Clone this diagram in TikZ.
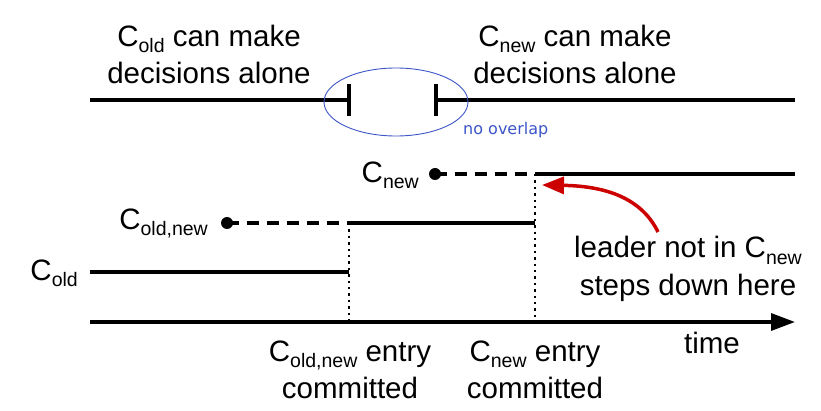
\documentclass[tikz,border=0pt]{standalone}
\usepackage{fontspec}
\setmainfont{Liberation Sans}
\newfontfamily\dejavu{DejaVu Sans}
\usetikzlibrary{arrows.meta,shapes.geometric}
\newcommand\lowsub[1]{\raisebox{-6pt}{\fontsize{19.5}{19.5}\selectfont #1}}
\definecolor{ovblue}{RGB}{60,85,200}
\definecolor{arred}{RGB}{204,0,0}
\begin{document}
\begin{tikzpicture}[x=1pt,y=-1pt,
  lbl/.style={font=\fontsize{29.5}{37}\selectfont, inner sep=0pt, align=center},
  thickline/.style={line width=3.4pt},
  dashline/.style={line width=3.4pt, dash pattern=on 12pt off 8pt},
  dotline/.style={line width=2.4pt, dash pattern=on 2.4pt off 4pt},
  startdot/.style={circle, fill=black, inner sep=0pt, minimum size=12pt},
  bluenote/.style={font=\dejavu\fontsize{16}{16}\selectfont, text=ovblue, inner sep=0pt}]
\useasboundingbox (0,0) rectangle (821,411);
% top timeline
\coordinate (tl1) at (90,100);
\coordinate (tl2) at (349,100);
\coordinate (tk1a) at (349,84);
\coordinate (tk1b) at (349,116);
\coordinate (tr1) at (436,100);
\coordinate (tr2) at (795,100);
\coordinate (tk2a) at (436,84);
\coordinate (tk2b) at (436,116);
\draw[thickline] (tl1) -- (tl2);
\draw[thickline] (tk1a) -- (tk1b);
\draw[thickline] (tr1) -- (tr2);
\draw[thickline] (tk2a) -- (tk2b);
\node[draw=ovblue, line width=0.9pt, ellipse, minimum width=144pt, minimum height=68pt, inner sep=0pt] (gap) at (396,102) {};
\node[bluenote, anchor=base west] (nov) at (463,135) {no overlap};
\node[lbl, anchor=base] (topL) at (209,84) {C\lowsub{old} can make\\decisions alone};
\node[lbl, anchor=base] (topR) at (575,84) {C\lowsub{new} can make\\decisions alone};
% Cnew row
\node[startdot] (dN) at (435,174) {};
\coordinate (sN) at (535,174);
\coordinate (eN) at (795,174);
\draw[dashline] (dN.center) -- (sN);
\draw[thickline] (sN) -- (eN);
\node[lbl, anchor=base east] (lN) at (419,183) {C\lowsub{new}};
% Cold,new row
\node[startdot] (dON) at (227,223) {};
\coordinate (sON) at (349,223);
\coordinate (eON) at (535,223);
\draw[dashline] (dON.center) -- (sON);
\draw[thickline] (sON) -- (eON);
\node[lbl, anchor=base east] (lON) at (208,230) {C\lowsub{old,new}};
% Cold row
\coordinate (sO) at (90,272);
\coordinate (eO) at (349,272);
\draw[thickline] (sO) -- (eO);
\node[lbl, anchor=base east] (lO) at (78,280) {C\lowsub{old}};
% axis
\coordinate (a1) at (90,322);
\coordinate (a2) at (795,322);
\coordinate (ax1) at (349,322);
\coordinate (ax2) at (535,322);
\draw[thickline, -{Triangle[length=24pt,width=17pt]}] (a1) -- (a2);
\draw[dotline] (sON) -- (ax1);
\draw[dotline] (sN) -- (ax2);
\node[lbl, anchor=base] (time) at (712,353) {time};
\node[lbl, anchor=base] (cL) at (350,398) {C\lowsub{old,new} entry\\committed};
\node[lbl, anchor=base] (cR) at (535,398) {C\lowsub{new} entry\\committed};
\node[lbl, anchor=base] (lead) at (688,295) {leader not in C\lowsub{new}\\steps down here};
% red arrow
\coordinate (rs) at (658,232);
\coordinate (re) at (542,185);
\draw[arred, line width=3.5pt, -{Triangle[length=22pt,width=17pt]}] (rs) .. controls (640,195) and (600,186) .. (re);
\end{tikzpicture}
\end{document}
